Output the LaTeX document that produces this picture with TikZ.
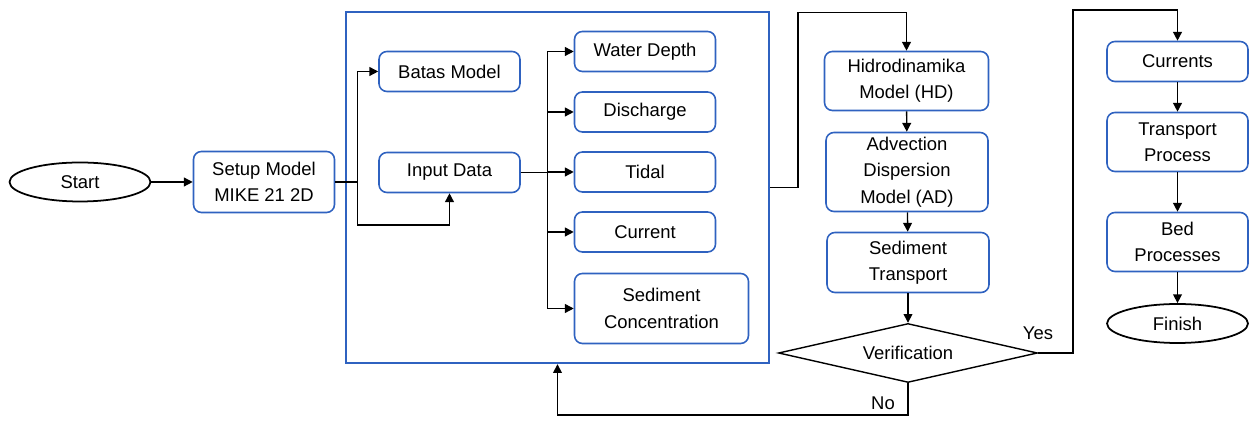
\documentclass[tikz,border=0pt]{standalone}
\usepackage{fontspec}
\setmainfont{Liberation Sans}
\usetikzlibrary{arrows.meta,positioning,shapes.geometric}
\definecolor{boxblue}{RGB}{47,98,192}
\begin{document}
\begin{tikzpicture}[%
    >={Triangle[length=5pt,width=5pt]},
    x=0.02cm, y=-0.02cm,                 % one unit = one pixel of the sketch
    font=\fontsize{10.5}{15}\selectfont,
    ]
\tikzset{
  base/.style={draw=boxblue, line width=0.9pt, align=center, fill=white},
  proc/.style={base, rounded corners=4.5pt, minimum width=2.82cm, minimum height=0.8cm, inner sep=1pt},
  term/.style={draw, line width=1pt, ellipse, minimum width=2.82cm, minimum height=0.78cm, inner sep=0pt},
  dec/.style={draw, line width=0.8pt, diamond, aspect=4.3, minimum width=5.18cm, minimum height=1.18cm, inner sep=0pt},
  ar/.style={->, line width=0.8pt},
  lbl/.style={inner sep=1pt}
}
\useasboundingbox (0,0) rectangle (1251,421);
    % left part
    \node [term] (start) at (80,182) {Start};
    \node [proc, minimum height=1.22cm] (setup) at (264,182) {Setup Model\\MIKE 21 2D};
        \draw [ar] (start) -- (setup);
    \node [draw=boxblue, line width=1.4pt, minimum width=8.46cm, minimum height=7.02cm] (frame) at (557.5,187.5) {};
    \node [proc] (batas) at (449.5,71.5) {Batas Model};
    \node [proc] (input) at (449.5,172.5) {Input Data};
        \draw [ar] (setup.east) -- ++(22,0) |- (batas.west);
        \draw [ar] (setup.east) -- ++(22,0) -- ++(0,43) -| (input.south);
    % input data
    \node [proc] (depth) at (645,51.5) {Water Depth};
    \node [proc] (discharge) at (645,112) {Discharge};
    \node [proc] (tidal) at (645,172) {Tidal};
    \node [proc] (current) at (645,232) {Current};
    \node [proc, minimum width=3.48cm, minimum height=1.4cm] (sedconc) at (661.5,308.5) {Sediment\\Concentration};
    \foreach \n in {depth,discharge,tidal,current,sedconc}
        \draw [ar] (input.east) -- ++(27,0) |- (\n.west);
    % model
    \node [proc, minimum width=3.28cm, minimum height=1.18cm] (hd) at (906.5,81) {Hidrodinamika\\Model (HD)};
    \node [proc, minimum width=3.24cm, minimum height=1.58cm] (ad) at (907,172) {Advection\\Dispersion\\Model (AD)};
    \node [proc, minimum width=3.24cm, minimum height=1.2cm] (sedtr) at (908,262.5) {Sediment\\Transport};
    \node [dec] (verif) at (908,353) {Verification};
        \draw [ar] (frame.east) -- ++(28,0) -- ++(0,-175) -| (hd.north);
        \draw [ar] (hd) -- (ad);
        \draw [ar] (ad) -- (sedtr);
        \draw [ar] (sedtr) -- (verif);
        \draw [ar] (verif.south) -- ++(0,32) -| (frame.south);
    \node [lbl] (no) at (883,403) {No};
    % results
    \node [proc] (currents) at (1177.5,61.5) {Currents};
    \node [proc, minimum height=1.18cm] (transp) at (1177.5,142) {Transport\\Process};
    \node [proc, minimum height=1.18cm] (bed) at (1177.5,242) {Bed\\Processes};
    \node [term] (finish) at (1177.5,323.5) {Finish};
        \draw [ar] (verif.east) -- ++(35,0) -- ++(0,-343) -| (currents.north);
        \draw [ar] (currents) -- (transp);
        \draw [ar] (transp) -- (bed);
        \draw [ar] (bed) -- (finish);
    \node [lbl] (yes) at (1038,333) {Yes};
\end{tikzpicture}
\end{document}
